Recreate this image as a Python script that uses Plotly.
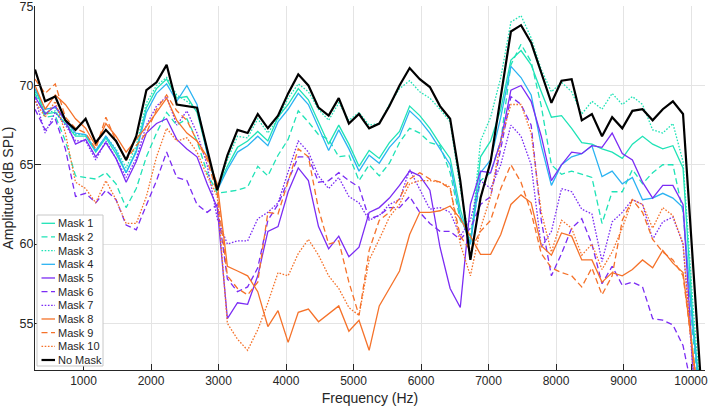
import numpy as np
import plotly.graph_objects as go

# frequency bins (Hz)
freq = 281.5 + 150.0 * np.arange(67)

no_mask = [71.0, 69.0, 69.3, 67.8, 67.2, 67.9, 66.4, 67.2, 66.5, 65.3,
           66.8, 69.7, 70.2, 71.3, 68.8, 68.7, 68.6, 66.0, 63.4, 65.6,
           67.2, 67.0, 68.2, 67.3, 68.1, 69.5, 70.7, 70.0, 68.6, 68.1,
           69.2, 67.6, 68.2, 67.3, 67.6, 68.7, 70.0, 71.1, 70.4, 69.9,
           68.7, 67.9, 64.0, 59.0, 62.9, 65.2, 69.4, 73.4, 73.8, 72.7,
           70.8, 68.9, 70.3, 70.4, 67.8, 68.2, 66.8, 68.0, 67.3, 68.4,
           68.5, 67.8, 68.5, 69.0, 68.2, 58.3, 49.0]

mask1 = [69.8, 68.2, 68.3, 67.6, 66.8, 66.8, 65.8, 66.7, 65.7, 64.5,
         65.9, 68.6, 69.8, 70.4, 69.2, 69.3, 68.3, 65.8, 63.5, 64.9,
         66.1, 66.5, 67.1, 66.5, 68.0, 68.8, 69.8, 69.1, 67.7, 66.3,
         67.5, 66.3, 64.9, 65.9, 65.4, 66.4, 67.1, 68.7, 68.1, 67.3,
         66.3, 65.4, 62.2, 60.0, 65.5, 66.5, 68.5, 71.6, 72.2, 71.3,
         69.6, 68.0, 68.1, 67.3, 66.4, 66.3, 66.0, 65.8, 65.4, 66.3,
         66.8, 66.3, 66.0, 66.2, 64.8, 55.0, 48.5]

mask2 = [69.5, 68.0, 68.1, 66.5, 64.3, 64.2, 64.1, 64.5, 63.8, 62.3,
         63.5, 65.5, 67.0, 68.3, 67.5, 67.9, 66.5, 64.5, 63.2, 63.3,
         63.4, 63.6, 64.9, 64.3, 65.6, 66.6, 68.4, 67.7, 66.9, 66.6,
         65.5, 65.6, 64.0, 65.0, 64.3, 65.1, 66.4, 67.3, 67.0, 66.4,
         66.2, 64.5, 61.5, 60.5, 64.0, 64.5, 66.5, 71.3, 72.6, 71.5,
         68.7, 65.0, 64.4, 64.6, 64.4, 64.2, 61.3, 63.3, 63.3, 64.7,
         63.8, 64.5, 65.0, 65.0, 62.0, 54.0, 48.5]

mask3 = [69.6, 68.3, 68.4, 67.6, 66.9, 66.9, 65.9, 66.8, 66.0, 64.8,
         66.2, 68.9, 70.0, 70.5, 69.4, 69.0, 68.5, 65.9, 63.5, 65.3,
         66.8, 66.7, 67.9, 67.0, 67.9, 69.2, 70.1, 69.6, 68.5, 67.8,
         68.9, 67.8, 68.3, 67.5, 67.6, 68.8, 69.8, 70.3, 69.6, 69.2,
         68.5, 67.7, 63.5, 60.0, 66.5, 68.0, 70.5, 74.0, 74.4, 73.0,
         71.0, 69.6, 70.2, 69.6, 68.2, 69.0, 68.5, 69.5, 68.8, 69.3,
         68.8, 67.2, 67.0, 67.6, 65.2, 56.0, 48.5]

mask4 = [69.8, 68.5, 68.6, 67.8, 67.0, 66.9, 65.9, 66.8, 65.9, 64.5,
         65.8, 68.3, 69.5, 70.1, 69.0, 70.0, 68.8, 65.7, 63.4, 64.7,
         65.8, 66.2, 66.8, 66.2, 67.7, 68.5, 69.5, 68.8, 67.4, 65.9,
         67.2, 66.0, 64.6, 65.6, 65.1, 66.1, 66.8, 68.4, 67.8, 67.0,
         66.0, 65.0, 61.8, 60.0, 64.5, 65.3, 68.0, 71.2, 70.5, 69.4,
         66.2, 63.7, 65.0, 65.5, 65.7, 66.2, 64.25, 64.6, 63.8, 64.2,
         62.8, 62.9, 63.2, 62.9, 62.3, 54.5, 48.5]

mask5 = [69.3, 68.2, 68.7, 67.8, 66.3, 66.6, 65.5, 66.4, 65.4, 63.9,
         65.2, 67.0, 67.6, 67.9, 66.6, 66.0, 65.5, 63.8, 62.3, 55.3,
         56.3, 56.2, 58.0, 60.8, 61.1, 63.3, 64.8, 64.0, 61.1, 59.7,
         60.5, 59.2, 59.8, 62.0, 62.3, 62.9, 63.7, 64.6, 64.3, 63.4,
         59.8, 57.2, 56.0, 62.5, 64.6, 64.5, 66.5, 69.7, 70.0, 69.0,
         66.8, 64.0, 65.0, 65.8, 65.7, 66.2, 66.1, 67.0, 65.7, 65.3,
         63.9, 62.9, 63.7, 63.7, 62.5, 52.0, 48.0]

mask6 = [68.5, 67.2, 67.9, 66.0, 63.0, 63.2, 62.6, 63.4, 62.8, 61.2,
         60.9, 62.5, 64.0, 65.8, 64.2, 64.0, 62.5, 62.0, 62.5, 57.8,
         57.0, 57.3, 58.5, 61.5, 62.5, 64.0, 65.5, 65.5, 63.9, 64.0,
         64.5, 64.0, 63.6, 61.6, 61.8, 62.3, 62.3, 63.0, 62.0, 61.3,
         60.8, 60.8, 60.3, 61.0, 62.5, 63.0, 66.0, 69.3, 68.8, 67.5,
         61.5, 58.0, 59.4, 61.0, 61.6, 60.0, 57.5, 58.6, 57.4, 57.6,
         57.3, 55.3, 55.2, 54.9, 53.6, 50.5, 48.0]

mask7 = [69.2, 67.0, 68.3, 67.5, 66.5, 66.5, 65.3, 66.5, 65.4, 64.2,
         65.4, 67.5, 68.7, 69.3, 67.5, 68.4, 67.0, 65.0, 61.6, 60.0,
         60.2, 60.2, 61.6, 62.0, 62.6, 64.5, 66.5, 65.8, 64.3, 63.5,
         64.2, 63.0, 62.6, 61.5, 61.8, 62.5, 62.8, 64.7, 63.5, 62.2,
         62.3, 62.0, 60.5, 61.5, 64.0, 63.5, 65.0, 67.5, 66.8, 65.0,
         59.8, 60.8, 63.5, 63.3, 62.2, 61.9, 58.9, 61.4, 62.0, 62.8,
         62.5, 60.3, 61.4, 61.7, 60.0, 52.0, 48.0]

mask8 = [70.0, 68.5, 69.4, 68.8, 67.9, 67.3, 66.2, 67.6, 66.8, 65.8,
         66.6, 67.4, 68.3, 69.2, 67.8, 67.0, 66.5, 65.5, 63.8, 58.6,
         58.3, 58.0, 57.0, 54.8, 55.8, 53.8, 55.7, 55.9, 55.1, 55.6,
         56.1, 54.5, 55.2, 53.3, 56.1, 57.2, 58.3, 60.6, 62.0, 62.0,
         62.1, 62.4, 61.6, 60.5, 59.35, 59.35, 60.6, 62.5, 63.1, 62.6,
         59.9, 59.3, 60.7, 60.5, 59.0, 59.0, 57.6, 58.2, 58.0, 58.4,
         59.0, 58.5, 59.6, 58.8, 58.2, 53.0, 48.0]

mask9 = [70.4, 69.5, 70.1, 68.0, 67.3, 67.0, 66.0, 68.0, 66.5, 65.3,
         66.2, 67.0, 68.5, 69.4, 68.4, 67.8, 66.5, 65.3, 63.2, 58.0,
         57.2, 56.8, 57.6, 62.0, 61.9, 64.0, 66.0, 65.5, 62.2, 60.0,
         60.2, 57.6, 55.5, 59.6, 61.5, 62.0, 62.9, 64.1, 64.5, 64.1,
         63.9, 63.5, 60.5, 59.6, 60.8, 61.5, 63.5, 65.0, 63.9, 62.0,
         59.4, 58.5, 58.2, 58.0, 57.3, 58.5, 56.8, 58.0, 61.5, 62.8,
         62.0, 60.3, 59.5, 59.0, 58.0, 53.0, 48.0]

mask10 = [69.0, 68.0, 69.0, 67.0, 63.9, 63.5, 62.6, 64.0, 62.8, 61.3,
          61.3, 63.0, 65.5, 67.3, 66.5, 66.7, 65.8, 64.3, 63.0, 55.0,
          54.0, 53.3, 54.6, 56.3, 58.2, 58.0, 59.4, 60.3, 59.3, 58.0,
          57.2, 56.0, 55.5, 59.0, 60.3, 61.7, 62.5, 63.8, 64.0, 64.0,
          63.9, 63.6, 60.0, 58.0, 61.0, 63.0, 66.5, 68.8, 68.8, 67.0,
          62.0, 59.5, 61.5, 61.0, 59.3, 60.0, 58.4, 59.5, 61.0, 62.8,
          62.5, 61.0, 62.3, 61.8, 60.0, 52.5, 48.0]

names = ["Mask 1", "Mask 2", "Mask 3", "Mask 4", "Mask 5", "Mask 6",
         "Mask 7", "Mask 8", "Mask 9", "Mask 10", "No Mask"]
series = [mask1, mask2, mask3, mask4, mask5, mask6, mask7, mask8, mask9,
          mask10, no_mask]

x_ticks = [1000, 2000, 3000, 4000, 5000, 6000, 7000, 8000, 9000, 10000]
y_ticks = [55, 60, 65, 70, 75]

TURQ = "#1fe3b6"
BLUE = "#2bb3f2"
PURP = "#7b2cf4"
ORNG = "#f5722a"
DASH = "6px,3.5px"
DOT = "1.6px,1.6px"
styles = [
    (TURQ, "solid", 1.3), (TURQ, DASH, 1.3), (TURQ, DOT, 1.3),
    (BLUE, "solid", 1.3),
    (PURP, "solid", 1.3), (PURP, DASH, 1.3), (PURP, DOT, 1.3),
    (ORNG, "solid", 1.3), (ORNG, DASH, 1.3), (ORNG, DOT, 1.3),
    ("#000000", "solid", 2.2),
]

fig = go.Figure()
for name, vals, (col, dash, w) in zip(names, series, styles):
    fig.add_trace(go.Scatter(x=freq, y=vals, mode="lines", name=name,
                             line=dict(color=col, dash=dash, width=w),
                             showlegend=False))

FONT = "Liberation Sans, Arial, Helvetica, sans-serif"
TXT = "#262626"

# legend box (drawn in paper space)
L, R, T, B = 35, 4, 6, 39
W, H = 709, 409
pw, ph = W - L - R, H - T - B


def px2x(px):
    return (px - L) / pw


def py2y(py):
    return (H - B - py) / ph


shapes = [dict(type="rect", xref="paper", yref="paper",
               x0=px2x(37), x1=px2x(103), y0=py2y(366), y1=py2y(215),
               fillcolor="white", line=dict(color="#c8c8c8", width=1),
               layer="above")]
annotations = []
for k, (name, (col, dash, w)) in enumerate(zip(names, styles)):
    cy = 223.3 + 13.67 * k
    shapes.append(dict(type="line", xref="paper", yref="paper",
                       x0=px2x(41.5), x1=px2x(55), y0=py2y(cy), y1=py2y(cy),
                       line=dict(color=col, dash=dash, width=w),
                       layer="above"))
    annotations.append(dict(xref="paper", yref="paper", x=px2x(55.5),
                            y=py2y(cy), text=name, showarrow=False,
                            xanchor="left", yanchor="middle",
                            font=dict(family=FONT, size=11, color=TXT)))

fig.update_layout(
    width=W, height=H,
    margin=dict(l=L, r=R, t=T, b=B),
    paper_bgcolor="white", plot_bgcolor="white",
    font=dict(family=FONT, color=TXT),
    shapes=shapes, annotations=annotations,
    showlegend=False,
)
fig.update_xaxes(range=[281.5, 10207], tickvals=x_ticks,
                 ticktext=[str(v) for v in x_ticks], automargin=False,
                 showgrid=True, gridcolor="#e4e4e4", gridwidth=1,
                 zeroline=False, showline=True, linecolor=TXT, linewidth=1,
                 ticks="inside", ticklen=6, tickcolor=TXT,
                 ticklabeloverflow="allow",
                 tickfont=dict(size=12, color=TXT, family=FONT),
                 title=dict(text="Frequency (Hz)", standoff=5,
                            font=dict(size=14, color=TXT, family=FONT)))
fig.update_yaxes(range=[52.06, 75.01], tickvals=y_ticks, automargin=False,
                 showgrid=True, gridcolor="#e4e4e4", gridwidth=1,
                 zeroline=False, showline=True, linecolor=TXT, linewidth=1,
                 ticks="inside", ticklen=6, tickcolor=TXT,
                 ticklabelstandoff=-2, ticklabeloverflow="allow",
                 tickfont=dict(size=12.5, color=TXT, family=FONT),
                 title=dict(text="Amplitude (dB SPL)", standoff=2,
                            font=dict(size=14, color=TXT, family=FONT)))

fig.write_html("out.html",
               config={"displayModeBar": False},
               post_script="document.body.style.margin='0px';")
